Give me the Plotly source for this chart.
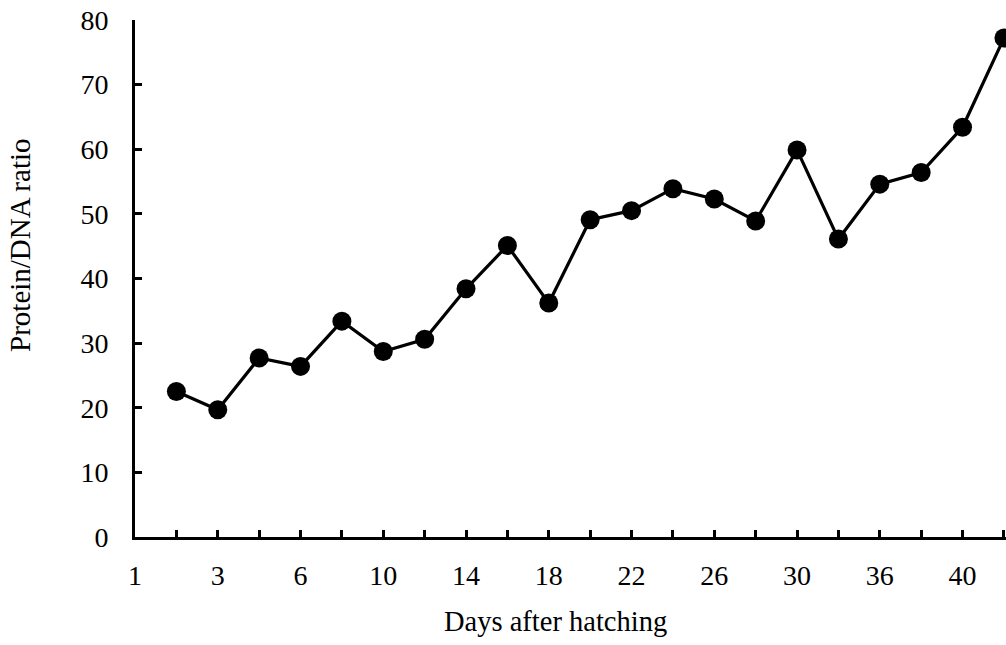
import plotly.graph_objects as go

# Sampling days after hatching (category labels along the x axis)
days = [1, 3, 6, 10, 14, 18, 22, 26, 30, 36, 40]
# Protein/DNA ratio at each sampling point (positions 1..21)
ratio = [22.5, 19.7, 27.7, 26.4, 33.4, 28.7, 30.6, 38.4, 45.1, 36.2,
         49.1, 50.5, 53.9, 52.3, 48.9, 59.9, 46.1, 54.6, 56.4, 63.4, 77.2]

positions = list(range(1, len(ratio) + 1))
tick_positions = list(range(0, len(ratio) + 1))
tick_text = ["" for _ in tick_positions]
for i, d in enumerate(days):
    tick_text[2 * i] = str(d)

FONT = "Liberation Serif, Times New Roman, serif"

fig = go.Figure(
    go.Scatter(
        x=positions,
        y=ratio,
        mode="lines+markers",
        line=dict(color="black", width=3.2),
        marker=dict(color="black", size=19),
        cliponaxis=False,
        showlegend=False,
    )
)

fig.update_layout(
    width=1006,
    height=645,
    margin=dict(l=135, r=0, t=20, b=108),
    plot_bgcolor="white",
    paper_bgcolor="white",
    font=dict(family=FONT, size=28, color="black"),
    annotations=[
        dict(
            text="Days after hatching",
            xref="paper", yref="paper",
            x=0.483, y=-0.164,
            xanchor="center", yanchor="middle",
            showarrow=False,
            font=dict(family=FONT, size=28.5, color="black"),
        ),
        dict(
            text="Protein/DNA ratio",
            textangle=-90,
            xref="paper", yref="paper",
            x=-0.132, y=0.563,
            xanchor="center", yanchor="middle",
            showarrow=False,
            font=dict(family=FONT, size=29, color="black"),
        ),
    ],
)

fig.update_xaxes(
    range=[0, 21.05],
    tickmode="array",
    tickvals=tick_positions,
    ticktext=tick_text,
    ticks="inside",
    ticklen=7,
    tickwidth=3,
    tickcolor="black",
    showline=True,
    linecolor="black",
    linewidth=3,
    showgrid=False,
    zeroline=False,
    ticklabelstandoff=11,
    tickfont=dict(family=FONT, size=28),
)

fig.update_yaxes(
    range=[0, 80],
    tickmode="array",
    tickvals=[0, 10, 20, 30, 40, 50, 60, 70, 80],
    ticks="inside",
    ticklen=7,
    tickwidth=3,
    tickcolor="black",
    showline=True,
    linecolor="black",
    linewidth=3,
    showgrid=False,
    zeroline=False,
    ticklabelstandoff=18,
    tickfont=dict(family=FONT, size=28),
)

fig.write_html("out.html")
